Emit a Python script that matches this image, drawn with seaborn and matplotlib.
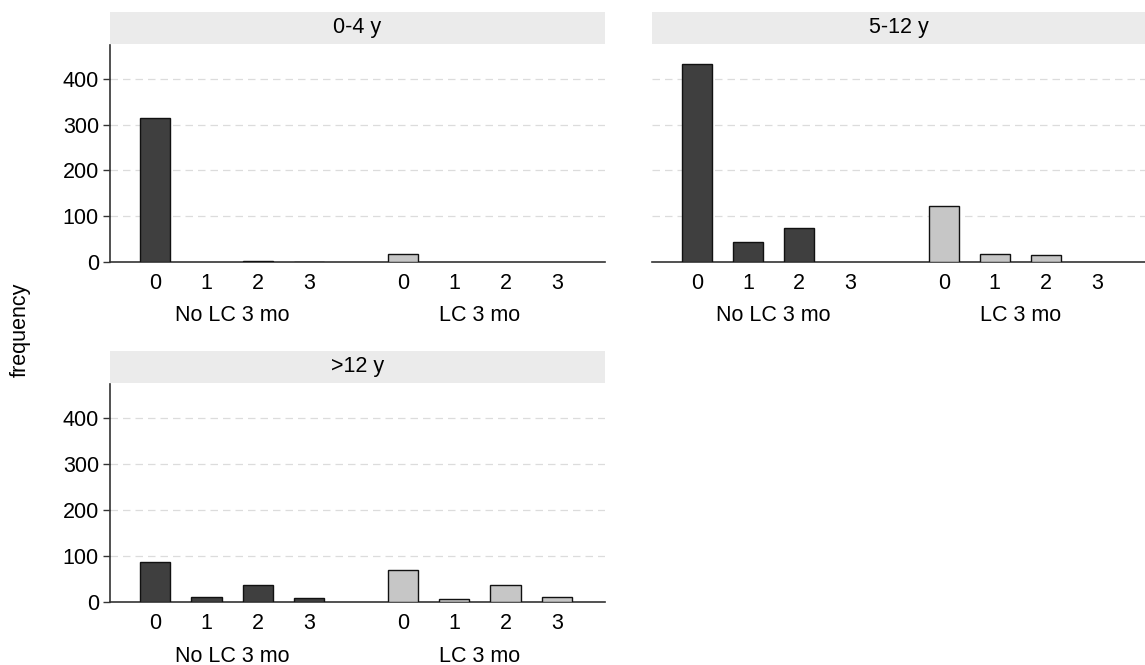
import pandas as pd
import numpy as np
import matplotlib
matplotlib.use("Agg")
import matplotlib.pyplot as plt
import seaborn as sns
from matplotlib.patches import Rectangle
from matplotlib.transforms import blended_transform_factory

# Data
panels = ['0-4 y', '5-12 y', '>12 y']
count_labels = ['0', '1', '2', '3']
group_labels = ['No LC 3 mo', 'LC 3 mo']
no_lc_0_4 = [315, 0, 2, 1]
lc_0_4 = [17, 0, 0, 0]
no_lc_5_12 = [433, 44, 75, 0]
lc_5_12 = [122, 17, 16, 0]
no_lc_12 = [87, 10, 37, 9]
lc_12 = [70, 7, 36, 10]

values = {
    '0-4 y': (no_lc_0_4, lc_0_4),
    '5-12 y': (no_lc_5_12, lc_5_12),
    '>12 y': (no_lc_12, lc_12),
}

# x positions: two groups of four bars with a wider gap between groups
pos_no = [0, 1, 2, 3]
pos_lc = [4.83, 5.83, 6.83, 7.83]

rows = []
for p in panels:
    a, b = values[p]
    for i in range(4):
        rows.append({'panel': p, 'group': group_labels[0], 'pos': pos_no[i], 'freq': a[i]})
        rows.append({'panel': p, 'group': group_labels[1], 'pos': pos_lc[i], 'freq': b[i]})
df = pd.DataFrame(rows)

sns.set_style("white")
plt.rcParams['font.family'] = ['Liberation Sans', 'DejaVu Sans']
plt.rcParams['text.color'] = 'black'
plt.rcParams['xtick.color'] = 'black'
plt.rcParams['ytick.color'] = 'black'

FS = 15.5

fig = plt.figure(figsize=(11.45, 6.65), dpi=100)
W, H = 1145, 665

def px_axes(left, top, right, bottom):
    return fig.add_axes([left / W, 1 - bottom / H, (right - left) / W, (bottom - top) / H])

boxes = {
    '0-4 y': (110, 45, 605, 262),
    '5-12 y': (652, 45, 1145, 262),
    '>12 y': (110, 384, 605, 602),
}

palette = {group_labels[0]: '#3f3f3f', group_labels[1]: '#c6c6c6'}

for p in panels:
    ax = px_axes(*boxes[p])
    sub = df[df['panel'] == p]
    sns.barplot(data=sub, x='pos', y='freq', hue='group', palette=palette,
                native_scale=True, dodge=False, width=0.59, errorbar=None,
                edgecolor='#111111', linewidth=1.0, legend=False, ax=ax, zorder=3)
    for bar in ax.patches:
        if bar.get_height() == 0:
            bar.set_linewidth(0)
    ax.set_xlim(-0.88, 7.83 + 0.94)
    ax.set_ylim(0, 474)
    ax.set_yticks([0, 100, 200, 300, 400])
    for yv in [100, 200, 300, 400]:
        ax.axhline(yv, color='#dcdcdc', linestyle=(0, (6, 4)), linewidth=0.9, zorder=0)
    ax.set_xticks(pos_no + pos_lc)
    ax.set_xticklabels(count_labels * 2, fontsize=FS)
    ax.tick_params(axis='x', length=0, pad=8)
    ax.set_xlabel('')
    ax.set_ylabel('')
    for s in ['top', 'right']:
        ax.spines[s].set_visible(False)
    ax.spines['bottom'].set_color('#333333')
    ax.spines['bottom'].set_linewidth(1.2)
    if p == '5-12 y':
        ax.spines['left'].set_visible(False)
        ax.set_yticks([])
    else:
        ax.spines['left'].set_color('#333333')
        ax.spines['left'].set_linewidth(1.2)
        ax.tick_params(axis='y', length=5, width=1, color='#333333', labelsize=FS, left=True, pad=3)
    # group labels under the ticks
    hax = boxes[p][3] - boxes[p][1]
    tr = blended_transform_factory(ax.transData, ax.transAxes)
    ax.text(np.mean(pos_no), -54 / hax, group_labels[0], transform=tr, ha='center', va='center', fontsize=FS)
    ax.text(np.mean(pos_lc), -54 / hax, group_labels[1], transform=tr, ha='center', va='center', fontsize=FS)
    # title strip
    hstrip = 32 / hax
    ax.add_patch(Rectangle((0, 1.005), 1, hstrip, transform=ax.transAxes,
                           facecolor='#ebebeb', edgecolor='none', clip_on=False))
    ax.text(0.5, 1.005 + hstrip / 2, p, transform=ax.transAxes, ha='center', va='center', fontsize=FS)

fig.text(20 / W, 1 - 330 / H, 'frequency', rotation=90, ha='center', va='center', fontsize=FS)

fig.savefig('out.png', dpi=100)
